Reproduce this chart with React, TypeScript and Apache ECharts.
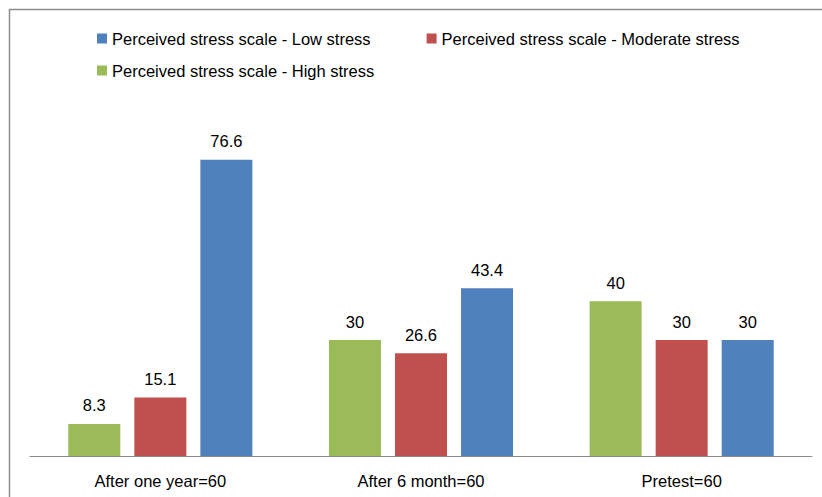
import React, { useEffect, useRef } from "react";
import * as echarts from "echarts";

const categories = ["After one year=60", "After 6 month=60", "Pretest=60"];
const highStress = [8.3, 30, 40];
const moderateStress = [15.1, 26.6, 30];
const lowStress = [76.6, 43.4, 30];
const seriesNames = [
  "Perceived stress scale - Low stress",
  "Perceived stress scale - Moderate stress",
  "Perceived stress scale - High stress",
];

const FONT = "Liberation Sans";
const FS = 16.5;

export default function App() {
  const ref = useRef<HTMLDivElement>(null);
  useEffect(() => {
    if (!ref.current) return;
    const chart = echarts.init(ref.current, undefined, { renderer: "svg" });
    const label = {
      show: true,
      position: "top" as const,
      distance: 10,
      color: "#000",
      fontSize: FS,
      fontFamily: FONT,
    };
    const legendText = { fontSize: FS, color: "#000", fontFamily: FONT };
    chart.setOption({
      animation: false,
      backgroundColor: "#fff",
      textStyle: { fontFamily: FONT },
      graphic: [
        {
          type: "rect",
          shape: { x: 9.5, y: 9.5, width: 900, height: 600 },
          style: { fill: "none", stroke: "#8c8c8c", lineWidth: 1.5 },
          silent: true,
        },
      ],
      legend: [
        {
          data: [seriesNames[0], seriesNames[1]],
          left: 97,
          top: 30,
          padding: 0,
          itemWidth: 10,
          itemHeight: 10,
          itemGap: 56,
          icon: "rect",
          textStyle: legendText,
        },
        {
          data: [seriesNames[2]],
          left: 97,
          top: 62,
          padding: 0,
          itemWidth: 10,
          itemHeight: 10,
          icon: "rect",
          textStyle: legendText,
        },
      ],
      grid: { left: 30, right: 10, top: 108, bottom: 41, containLabel: false },
      xAxis: {
        type: "category",
        data: categories,
        axisLine: { show: true, lineStyle: { color: "#8c8c8c", width: 1 } },
        axisTick: { show: false },
        axisLabel: { color: "#000", fontSize: FS, fontFamily: FONT, margin: 16 },
      },
      yAxis: {
        type: "value",
        min: 0,
        max: 90,
        interval: 10,
        show: false,
        splitLine: { show: false },
      },
      series: [
        {
          name: seriesNames[2],
          type: "bar",
          data: highStress,
          barWidth: 52,
          barGap: "27%",
          itemStyle: { color: "#9bbb59" },
          label,
        },
        {
          name: seriesNames[1],
          type: "bar",
          data: moderateStress,
          barWidth: 52,
          barGap: "27%",
          itemStyle: { color: "#c0504d" },
          label,
        },
        {
          name: seriesNames[0],
          type: "bar",
          data: lowStress,
          barWidth: 52,
          barGap: "27%",
          itemStyle: { color: "#4f81bd" },
          label,
        },
      ],
    });
    return () => chart.dispose();
  }, []);
  return (
    <div
      ref={ref}
      style={{ position: "fixed", left: 0, top: 0, width: 822, height: 497 }}
    />
  );
}
